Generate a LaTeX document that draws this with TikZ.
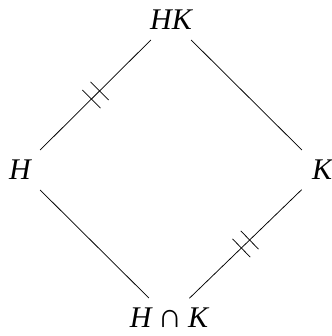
\documentclass[tikz,border=0pt]{standalone}
\usepackage{fontspec}
\setmainfont{Liberation Serif}
\usetikzlibrary{decorations.markings}
\tikzset{
  lbl/.style={inner sep=0pt, font=\fontsize{30}{36}\selectfont\itshape},
  edge/.style={line width=0.75pt, shorten <=28.3pt, shorten >=28.3pt},
  dbltick/.style={postaction={decorate}, decoration={markings,
    mark=at position 0.5 with {\draw[line width=0.75pt] (-5.75pt,-15.5pt) -- (-5.75pt,15.5pt);
      \draw[line width=0.75pt] (5.75pt,-15.5pt) -- (5.75pt,15.5pt);}}}
}
\begin{document}
\begin{tikzpicture}[x=1pt,y=1pt]
\useasboundingbox (0,0) rectangle (331,336);
\node[lbl] (HK) at (171,316) {HK};
\node[lbl] (H) at (20,166) {H};
\node[lbl] (K) at (322,166) {K};
\node[lbl] (HnK) at (169,18) {H\hspace{0.2em}{\upshape\fontsize{34}{36}\selectfont ∩}\hspace{0.2em}K};
\draw[edge, dbltick] (HK.center) -- (H.center);
\draw[edge] (HK.center) -- (K.center);
\draw[edge] (H.center) -- (HnK.center);
\draw[edge, dbltick] (HnK.center) -- (K.center);
\end{tikzpicture}
\end{document}
